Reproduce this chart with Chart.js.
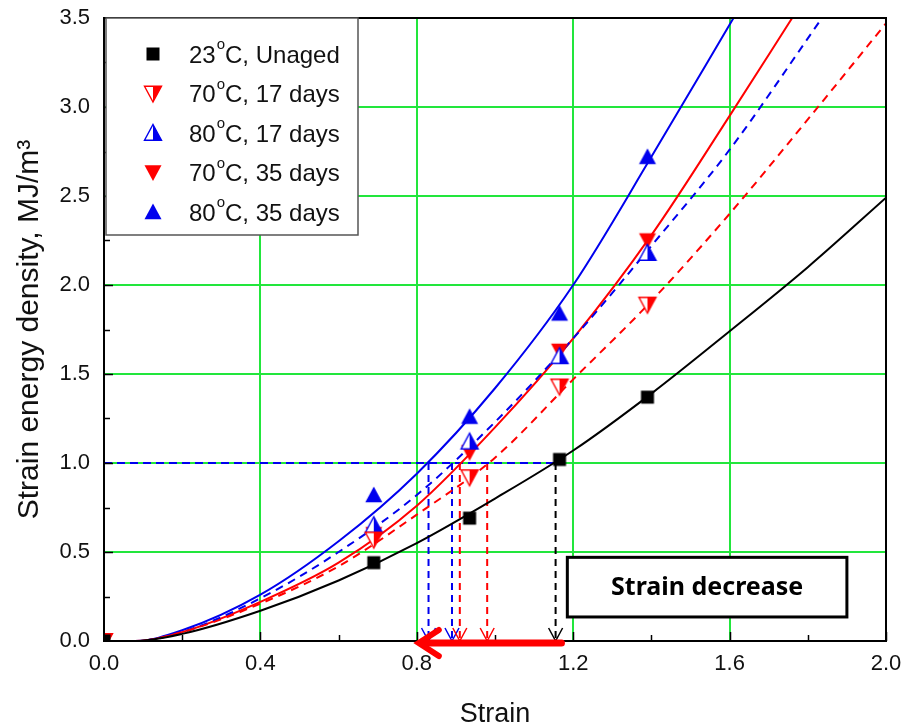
<!DOCTYPE html>
<html>
<head>
<meta charset="utf-8">
<script src="https://cdn.jsdelivr.net/npm/chart.js@4"></script>
<style>
  html, body { margin: 0; padding: 0; background: #fff; }
</style>
</head>
<body>
<canvas id="chart" width="904" height="727"></canvas>
<script>
// measured points (strain, MJ/m^3)
const strainPts = [0, 0.69, 0.935, 1.165, 1.39];
const unagedPts = [0, 0.44, 0.69, 1.02, 1.37];
const t70d17Pts = [0, 0.57, 0.92, 1.43, 1.89];
const t80d17Pts = [0, 0.65, 1.12, 1.60, 2.18];
const t70d35Pts = [0, 0.60, 1.06, 1.63, 2.25];
const t80d35Pts = [0, 0.82, 1.26, 1.84, 2.72];

// fitted curves
const unagedFitX = [0, 0.08, 0.2, 0.4, 0.6, 0.8, 1.0, 1.2, 1.4, 1.6, 1.8, 2.0];
const unagedFitY = [0, 0, 0.04, 0.17, 0.34, 0.55, 0.80, 1.07, 1.39, 1.74, 2.10, 2.49];
const t70d17FitX = [0, 0.08, 0.2, 0.4, 0.6, 0.8, 1.0, 1.2, 1.4, 1.6, 1.8, 2.0];
const t70d17FitY = [0, 0, 0.05, 0.21, 0.42, 0.71, 1.03, 1.47, 1.91, 2.40, 2.93, 3.47];
const t80d17FitX = [0, 0.08, 0.2, 0.4, 0.6, 0.8, 1.0, 1.2, 1.4, 1.6, 1.83];
const t80d17FitY = [0, 0, 0.05, 0.24, 0.50, 0.82, 1.23, 1.70, 2.22, 2.76, 3.48];
const t70d35FitX = [0, 0.08, 0.2, 0.4, 0.6, 0.8, 1.0, 1.2, 1.4, 1.6, 1.76];
const t70d35FitY = [0, 0, 0.05, 0.22, 0.44, 0.76, 1.20, 1.70, 2.28, 2.95, 3.50];
const t80d35FitX = [0, 0.08, 0.2, 0.4, 0.6, 0.8, 1.0, 1.2, 1.4, 1.61];
const t80d35FitY = [0, 0, 0.06, 0.26, 0.56, 0.94, 1.42, 2.00, 2.72, 3.50];

// strain at 1.0 MJ/m^3 for each curve
const dropLevel = 1.0;
const dropX = [0.83, 0.89, 0.91, 0.98, 1.155];
const dropColors = ['#0000ee', '#0000ee', '#ff0000', '#ff0000', '#000000'];

const legendLabels = [['23', 'C, Unaged'], ['70', 'C, 17 days'], ['80', 'C, 17 days'], ['70', 'C, 35 days'], ['80', 'C, 35 days']];

const RED = '#ff0000';
const BLUE = '#0000ee';
const GREEN = '#22e63c';
const FONT = "'Liberation Sans', Arial, sans-serif";

function zip(xs, ys) {
    return xs.map((x, i) => ({ x: x, y: ys[i] }));
}

function isMajor(v, step) {
    const r = v / step;
    return Math.abs(r - Math.round(r)) < 1e-6;
}

// marker drawing, used for points and legend
function drawMarker(g, kind, color, cx, cy) {
    g.save();
    g.lineWidth = 1.4;
    g.strokeStyle = color;
    g.fillStyle = color;
    if (kind === 'square') {
        g.fillRect(cx - 6.5, cy - 6.5, 13, 13);
    } else {
        const h = 8.5;
        const up = kind.indexOf('up') >= 0;
        const apexY = up ? cy - h : cy + h;
        const baseY = up ? cy + h * 0.85 : cy - h * 0.85;
        const half = kind.indexOf('half') >= 0;
        g.beginPath();
        g.moveTo(cx, apexY);
        g.lineTo(cx + h, baseY);
        g.lineTo(cx - h, baseY);
        g.closePath();
        if (half) {
            g.fillStyle = '#fff';
            g.fill();
            g.fillStyle = color;
            g.beginPath();
            g.moveTo(cx, apexY);
            g.lineTo(cx + h, baseY);
            g.lineTo(cx, baseY);
            g.closePath();
            g.fill();
            g.beginPath();
            g.moveTo(cx, apexY);
            g.lineTo(cx + h, baseY);
            g.lineTo(cx - h, baseY);
            g.closePath();
            g.stroke();
        } else {
            g.fill();
        }
    }
    g.restore();
}

function makeMarker(kind, color) {
    const c = document.createElement('canvas');
    c.width = 22;
    c.height = 22;
    drawMarker(c.getContext('2d'), kind, color, 11, 11);
    return c;
}

const markerKinds = [
    ['square', '#000'],
    ['down-half', RED],
    ['up-half', BLUE],
    ['down', RED],
    ['up', BLUE]
];

function pointSet(ys, k) {
    return {
        data: zip(strainPts, ys),
        showLine: false,
        pointStyle: makeMarker(markerKinds[k][0], markerKinds[k][1]),
        order: 0
    };
}

function curveSet(xs, ys, color, dashed) {
    return {
        data: zip(xs, ys),
        borderColor: color,
        borderWidth: 2,
        borderDash: dashed ? [8, 6] : [],
        pointRadius: 0,
        tension: 0.4,
        cubicInterpolationMode: 'monotone',
        order: 1
    };
}

function dropSet(x, color) {
    return {
        data: [{ x: x, y: dropLevel }, { x: x, y: 0 }],
        borderColor: color,
        borderWidth: 2,
        borderDash: [7, 5],
        pointRadius: 0,
        order: 2
    };
}

const datasets = [
    pointSet(unagedPts, 0),
    pointSet(t70d17Pts, 1),
    pointSet(t80d17Pts, 2),
    pointSet(t70d35Pts, 3),
    pointSet(t80d35Pts, 4),
    curveSet(unagedFitX, unagedFitY, '#000', false),
    curveSet(t70d17FitX, t70d17FitY, RED, true),
    curveSet(t80d17FitX, t80d17FitY, BLUE, true),
    curveSet(t70d35FitX, t70d35FitY, RED, false),
    curveSet(t80d35FitX, t80d35FitY, BLUE, false),
    {
        data: [{ x: 0, y: dropLevel }, { x: dropX[4], y: dropLevel }],
        borderColor: BLUE,
        borderWidth: 2,
        borderDash: [8, 5],
        pointRadius: 0,
        order: 2
    }
];
dropX.forEach((x, i) => datasets.push(dropSet(x, dropColors[i])));

const extras = {
    id: 'extras',
    afterDatasetsDraw(chart) {
        const g = chart.ctx;
        const xs = chart.scales.x;
        const ys = chart.scales.y;
        const a = chart.chartArea;
        g.save();

        // inward tick marks
        g.strokeStyle = '#000';
        g.lineWidth = 1.5;
        for (let v = 0.2; v < 2; v += 0.2) {
            const px = Math.round(xs.getPixelForValue(v)) + 0.5;
            const len = isMajor(v, 0.4) ? 9 : 6;
            g.beginPath();
            g.moveTo(px, a.bottom);
            g.lineTo(px, a.bottom - len);
            g.stroke();
        }
        for (let v = 0.25; v < 3.5; v += 0.25) {
            const py = Math.round(ys.getPixelForValue(v)) + 0.5;
            const len = isMajor(v, 0.5) ? 9 : 6;
            g.beginPath();
            g.moveTo(a.left, py);
            g.lineTo(a.left + len, py);
            g.stroke();
        }

        // frame
        g.lineWidth = 2;
        g.strokeRect(a.left, a.top, a.right - a.left, a.bottom - a.top);

        // open arrow heads at the foot of the drop lines
        g.lineWidth = 1.5;
        dropX.forEach((x, i) => {
            const px = xs.getPixelForValue(x);
            const py = ys.getPixelForValue(0);
            g.strokeStyle = dropColors[i];
            g.beginPath();
            g.moveTo(px - 7, py - 13);
            g.lineTo(px, py);
            g.lineTo(px + 7, py - 13);
            g.stroke();
        });

        // thick red arrow, strain decrease
        const ay = ys.getPixelForValue(0) + 2;
        const ax0 = xs.getPixelForValue(1.17);
        const ax1 = xs.getPixelForValue(0.80);
        g.strokeStyle = RED;
        g.lineCap = 'round';
        g.lineWidth = 7;
        g.beginPath();
        g.moveTo(ax0, ay);
        g.lineTo(ax1 + 4, ay);
        g.stroke();
        g.lineWidth = 6;
        g.beginPath();
        g.moveTo(ax1 + 22, ay - 13);
        g.lineTo(ax1 + 2, ay);
        g.lineTo(ax1 + 22, ay + 13);
        g.stroke();
        g.lineCap = 'butt';

        // annotation box
        const bx0 = xs.getPixelForValue(1.185);
        const bx1 = xs.getPixelForValue(1.90);
        const by0 = ys.getPixelForValue(0.47);
        const by1 = ys.getPixelForValue(0.135);
        g.fillStyle = '#fff';
        g.fillRect(bx0, by0, bx1 - bx0, by1 - by0);
        g.strokeStyle = '#000';
        g.lineWidth = 3;
        g.strokeRect(bx0, by0, bx1 - bx0, by1 - by0);
        g.fillStyle = '#000';
        g.font = "bold 25px 'Noto Sans', 'Open Sans', sans-serif";
        g.textAlign = 'center';
        g.textBaseline = 'middle';
        g.fillText('Strain decrease', (bx0 + bx1) / 2, (by0 + by1) / 2 + 1);

        // legend
        const lx = a.left + 2, ly = a.top;
        g.fillStyle = '#fff';
        g.fillRect(lx, ly, 252, 217);
        g.strokeStyle = '#555';
        g.lineWidth = 1.5;
        g.strokeRect(lx, ly, 252, 217);
        g.textAlign = 'left';
        g.textBaseline = 'middle';
        legendLabels.forEach((lab, i) => {
            const cy = ly + 36 + i * 39.5;
            drawMarker(g, markerKinds[i][0], markerKinds[i][1], lx + 47, cy);
            g.fillStyle = '#111';
            g.font = '24px ' + FONT;
            let tx = lx + 83;
            g.fillText(lab[0], tx, cy + 2);
            tx += g.measureText(lab[0]).width + 1;
            g.font = '15px ' + FONT;
            g.fillText('o', tx, cy - 9);
            tx += g.measureText('o').width;
            g.font = '24px ' + FONT;
            g.fillText(lab[1], tx, cy + 2);
        });
        g.restore();
    }
};

new Chart(document.getElementById('chart'), {
    type: 'line',
    data: { datasets: datasets },
    options: {
        responsive: false,
        animation: false,
        layout: { padding: { top: 18, right: 18, left: 0, bottom: 0 } },
        plugins: {
            legend: { display: false },
            tooltip: { enabled: false }
        },
        scales: {
            x: {
                type: 'linear',
                min: 0,
                max: 2,
                afterFit: s => { s.height = 86; s.paddingLeft = 0; s.paddingRight = 0; },
                ticks: {
                    stepSize: 0.2,
                    autoSkip: false,
                    maxRotation: 0,
                    padding: 10,
                    color: '#111',
                    font: { family: FONT, size: 22 },
                    callback: v => isMajor(v, 0.4) ? v.toFixed(1) : ''
                },
                grid: {
                    drawTicks: false,
                    lineWidth: 2,
                    color: c => (isMajor(c.tick.value, 0.4) && c.tick.value > 0 && c.tick.value < 2) ? GREEN : 'rgba(0,0,0,0)'
                },
                border: { display: true, color: '#000', width: 2 },
                title: {
                    display: true,
                    text: 'Strain',
                    color: '#111',
                    font: { family: FONT, size: 27 },
                    padding: { top: 0, bottom: -4 }
                }
            },
            y: {
                type: 'linear',
                min: 0,
                max: 3.5,
                afterFit: s => { s.width = 104; s.paddingTop = 0; s.paddingBottom = 0; },
                ticks: {
                    stepSize: 0.25,
                    autoSkip: false,
                    padding: 14,
                    color: '#111',
                    font: { family: FONT, size: 22 },
                    callback: v => isMajor(v, 0.5) ? v.toFixed(1) : ''
                },
                grid: {
                    drawTicks: false,
                    lineWidth: 2,
                    color: c => (isMajor(c.tick.value, 0.5) && c.tick.value > 0 && c.tick.value < 3.5) ? GREEN : 'rgba(0,0,0,0)'
                },
                border: { display: true, color: '#000', width: 2 },
                title: {
                    display: true,
                    text: 'Strain energy density, MJ/m³',
                    color: '#111',
                    font: { family: FONT, size: 30 },
                    padding: { top: 12, bottom: 0 }
                }
            }
        }
    },
    plugins: [extras]
});
</script>
</body>
</html>
